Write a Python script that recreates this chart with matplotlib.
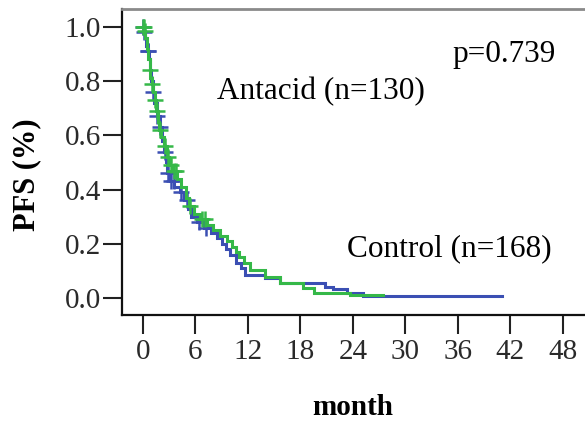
import numpy as np
import matplotlib
matplotlib.use("Agg")
import matplotlib.pyplot as plt

# ---- data ----
blue_t = [0.0, 0.1, 0.2, 0.35, 0.5, 0.65, 0.8, 0.95, 1.1, 1.3, 1.6, 1.9, 2.2, 2.4, 2.6, 2.8,
          3.1, 3.6, 4.2, 4.7, 5.1, 5.5, 6.2, 7.0, 7.8, 8.5, 9.0, 9.5, 10.0, 10.6, 11.2, 11.7,
          13.9, 15.7, 20.8, 21.7, 23.3, 25.1]
blue_s = [1.0, 0.98, 0.96, 0.93, 0.91, 0.88, 0.84, 0.80, 0.76, 0.72, 0.67, 0.63, 0.58, 0.54, 0.50, 0.46,
          0.43, 0.41, 0.39, 0.36, 0.33, 0.30, 0.28, 0.26, 0.24, 0.22, 0.20, 0.18, 0.16, 0.13, 0.11, 0.085,
          0.073, 0.054, 0.042, 0.032, 0.02, 0.006]
blue_end = 41.0
blue_cens = [0.05, 0.15, 0.55, 0.6, 1.1, 1.6, 1.95, 2.5, 2.9, 3.2, 3.5, 4.3, 5.0, 6.4, 7.2]

green_t = [0.0, 0.15, 0.25, 0.45, 0.6, 0.75, 0.85, 1.0, 1.15, 1.35, 1.5, 1.7, 1.85, 2.1, 2.4, 2.7,
           3.0, 3.4, 3.9, 4.4, 4.9, 5.3, 5.8, 6.5, 7.3, 8.0, 8.8, 9.6, 10.2, 10.6, 11.0, 11.5,
           12.2, 13.9, 15.7, 18.3, 19.5, 23.7]
green_s = [1.0, 0.985, 0.96, 0.92, 0.88, 0.84, 0.81, 0.79, 0.76, 0.73, 0.69, 0.65, 0.62, 0.595, 0.56, 0.52,
           0.49, 0.47, 0.44, 0.41, 0.37, 0.34, 0.31, 0.29, 0.27, 0.25, 0.23, 0.21, 0.19, 0.17, 0.15, 0.13,
           0.103, 0.079, 0.054, 0.036, 0.02, 0.011]
green_end = 27.4
green_cens = [0.05, 0.1, 0.2, 0.8, 1.0, 1.4, 1.6, 1.9, 2.5, 2.9, 3.2, 3.5, 3.8, 5.4, 6.7, 7.1]

x_ticks = [0, 6, 12, 18, 24, 30, 36, 42, 48]
y_ticks = [0.0, 0.2, 0.4, 0.6, 0.8, 1.0]

BLUE = "#3b4fb3"
GREEN = "#35b848"

fig = plt.figure(figsize=(5.85, 4.25), dpi=100)
ax = fig.add_axes([0.2085, 0.2588, 0.80, 0.72])

def step_value(ts, ss, t):
    idx = np.searchsorted(ts, t, side="right") - 1
    return ss[max(idx, 0)]

for ts, ss, end, cens, col in [(blue_t, blue_s, blue_end, blue_cens, BLUE),
                               (green_t, green_s, green_end, green_cens, GREEN)]:
    xs = list(ts) + [end]
    ys = list(ss) + [ss[-1]]
    ax.step(xs, ys, where="post", color=col, lw=2.2, solid_joinstyle="miter")
    cy = [step_value(ts, ss, c) for c in cens]
    ax.plot(cens, cy, ls="none", marker="+", ms=12, mew=1.8, color=col)

ax.set_xlim(-2.4, 51.1)
ax.set_ylim(-0.0627, 1.066)
ax.set_xticks(x_ticks)
ax.set_yticks(y_ticks)
ax.set_xticklabels([str(v) for v in x_ticks])
ax.set_yticklabels([f"{v:.1f}" for v in y_ticks])

for lab in ax.get_xticklabels() + ax.get_yticklabels():
    lab.set_fontfamily("Liberation Serif")
    lab.set_fontsize(21)
    lab.set_color("#2a2a2a")
ax.tick_params(axis="both", direction="out", length=13.5, width=1.5, color="#222222")
ax.tick_params(axis="x", pad=4)
ax.tick_params(axis="y", pad=1.5)

for side in ["left", "bottom"]:
    ax.spines[side].set_linewidth(1.6)
    ax.spines[side].set_color("#111111")
ax.spines["top"].set_linewidth(2.0)
ax.spines["top"].set_color("#8a8a8a")
ax.spines["right"].set_visible(False)

ax.set_ylabel("PFS (%)", family="Liberation Serif", fontweight="bold", fontsize=22)
ax.yaxis.set_label_coords(-0.172, 0.457)
ax.set_xlabel("month", family="Liberation Serif", fontweight="bold", fontsize=21)
ax.xaxis.set_label_coords(0.4936, -0.258)

txt = dict(family="Liberation Serif", fontsize=22.5, va="baseline", ha="left", color="black")
ax.text(8.46, 0.734, "Antacid (n=130)", **txt)
ax.text(35.4, 0.871, "p=0.739", **txt)
ax.text(23.3, 0.155, "Control (n=168)", **txt)

fig.savefig("out.png", dpi=100)
